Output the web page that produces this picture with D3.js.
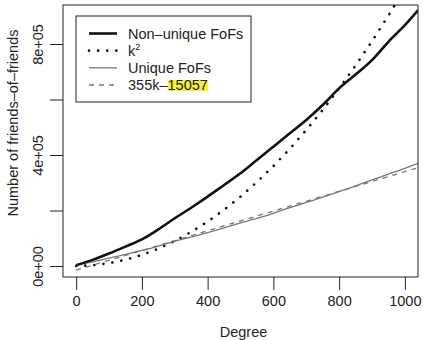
<!DOCTYPE html>
<html>
<head>
<meta charset="utf-8">
<script src="https://cdn.jsdelivr.net/npm/d3@7"></script>
<style>
  body { margin: 0; background: #fff; }
  text { font-family: "Liberation Sans", Arial, sans-serif; fill: #222; }
</style>
</head>
<body>
<svg id="chart" width="423" height="340"></svg>
<script>
// data
const degree = [0, 50, 100, 150, 200, 250, 300, 350, 400, 450, 500, 550, 600, 650, 700, 750, 800, 850, 900, 950, 1000, 1040];
const nonUnique = [3000, 22000, 45000, 70000, 96000, 132000, 172000, 210000, 250000, 292000, 334000, 382000, 430000, 478000, 526000, 580000, 640000, 690000, 742000, 808000, 868000, 922000];
const unique = [2000, 15000, 28000, 42000, 56000, 72000, 89000, 104000, 120000, 137000, 155000, 172000, 190000, 210000, 229000, 248000, 268000, 289000, 310000, 331000, 352000, 370000];
const kSquared = [0, 2500, 10000, 22500, 40000, 62500, 90000, 122500, 160000, 202500, 250000, 302500, 360000, 422500, 490000, 562500, 640000, 722500, 810000, 902500, 1000000, 1081600];
const fitSlope = 355, fitIntercept = -15057;

const xTicks = [0, 200, 400, 600, 800, 1000];
const yTicks = [0, 200000, 400000, 600000, 800000];
const yLabels = {0: "0e+00", 400000: "4e+05", 800000: "8e+05"};

const legendItems = [
  {label: "Non\u2013unique FoFs", color: "#111", width: 2.6, dash: null},
  {label: "k", sup: "2", color: "#111", width: 2.6, dash: "0.1 9", cap: "round"},
  {label: "Unique FoFs", color: "#777", width: 1.3, dash: null},
  {label: "355k\u2013", hl: "15057", color: "#777", width: 1.3, dash: "5 5"}
];

const fs = "14.5px";
const svg = d3.select("#chart");
const box = {left: 63, right: 418, top: 5, bottom: 277};

const x = d3.scaleLinear().domain([-40, 1040]).range([box.left, box.right]);
const y = d3.scaleLinear().domain([-39640, 940540]).range([box.bottom, box.top]);

svg.append("clipPath").attr("id", "clip")
  .append("rect")
  .attr("x", box.left).attr("y", box.top)
  .attr("width", box.right - box.left).attr("height", box.bottom - box.top);

const plot = svg.append("g").attr("clip-path", "url(#clip)");

const line = d3.line().x(d => x(d[0])).y(d => y(d[1]));

plot.append("path")
  .datum(degree.map((k, i) => [k, kSquared[i]]))
  .attr("d", line)
  .attr("fill", "none").attr("stroke", "#111").attr("stroke-width", 2.6)
  .attr("stroke-linecap", "round").attr("stroke-dasharray", "0.1 9");

plot.append("path")
  .datum([[0, fitIntercept], [1040, fitSlope * 1040 + fitIntercept]])
  .attr("d", line)
  .attr("fill", "none").attr("stroke", "#777").attr("stroke-width", 1.3)
  .attr("stroke-dasharray", "5 5");

const smooth = d3.line().x(d => x(d[0])).y(d => y(d[1])).curve(d3.curveMonotoneX);

plot.append("path")
  .datum(degree.map((k, i) => [k, unique[i]]))
  .attr("d", smooth)
  .attr("fill", "none").attr("stroke", "#777").attr("stroke-width", 1.3);

plot.append("path")
  .datum(degree.map((k, i) => [k, nonUnique[i]]))
  .attr("d", smooth)
  .attr("fill", "none").attr("stroke", "#111").attr("stroke-width", 2.6);

// frame
svg.append("rect")
  .attr("x", box.left).attr("y", box.top)
  .attr("width", box.right - box.left).attr("height", box.bottom - box.top)
  .attr("fill", "none").attr("stroke", "#222").attr("stroke-width", 1);

// x axis
const xAxis = svg.append("g").attr("transform", `translate(0,${box.bottom})`)
  .call(d3.axisBottom(x).tickValues(xTicks).tickSize(13).tickPadding(6).tickFormat(d3.format("d")));
xAxis.select(".domain").remove();
xAxis.selectAll("line").attr("stroke", "#222");
xAxis.selectAll("text").style("font-size", fs).style("fill", "#222")
  .style("font-family", "Liberation Sans, Arial, sans-serif");

// y axis
const yAxis = svg.append("g").attr("transform", `translate(${box.left},0)`)
  .call(d3.axisLeft(y).tickValues(yTicks).tickSize(13).tickFormat(d => yLabels[d] || ""));
yAxis.select(".domain").remove();
yAxis.selectAll("line").attr("stroke", "#222");
yAxis.selectAll("text")
  .attr("x", null).attr("dy", null)
  .attr("text-anchor", "middle")
  .attr("transform", "translate(-20,0) rotate(-90)")
  .style("font-size", fs).style("fill", "#222")
  .style("font-family", "Liberation Sans, Arial, sans-serif");

// axis titles
svg.append("text").attr("x", (box.left + box.right) / 2 + 3).attr("y", 337)
  .attr("text-anchor", "middle").style("font-size", fs).text("Degree");
svg.append("text")
  .attr("transform", `translate(18,${(box.top + box.bottom) / 2 - 18}) rotate(-90)`)
  .attr("text-anchor", "middle").style("font-size", fs).text("Number of friends\u2013of\u2013friends");

// legend
const legend = svg.append("g");
legend.append("rect").attr("x", 76).attr("y", 16).attr("width", 175).attr("height", 86)
  .attr("fill", "#fff").attr("stroke", "#222").attr("stroke-width", 1);

const rowY = d3.scalePoint().domain(d3.range(legendItems.length)).range([33.5, 85]);
legendItems.forEach((it, i) => {
  const yy = rowY(i);
  legend.append("line").attr("x1", 89).attr("x2", 117).attr("y1", yy).attr("y2", yy)
    .attr("stroke", it.color).attr("stroke-width", it.width)
    .attr("stroke-dasharray", it.dash).attr("stroke-linecap", it.cap || "butt");
  const hlRect = it.hl ? legend.append("rect").attr("fill", "#f7f03a") : null;
  const t = legend.append("text").attr("x", 128).attr("y", yy + 5).style("font-size", fs);
  const first = t.append("tspan").text(it.label);
  if (it.sup) t.append("tspan").attr("dy", -6).style("font-size", "9px").text(it.sup);
  if (it.hl) {
    const w0 = first.node().getComputedTextLength();
    const h = t.append("tspan").text(it.hl);
    const w1 = h.node().getComputedTextLength();
    hlRect.attr("x", 128 + w0).attr("y", yy - 5).attr("width", w1).attr("height", 11);
  }
});
</script>
</body>
</html>
